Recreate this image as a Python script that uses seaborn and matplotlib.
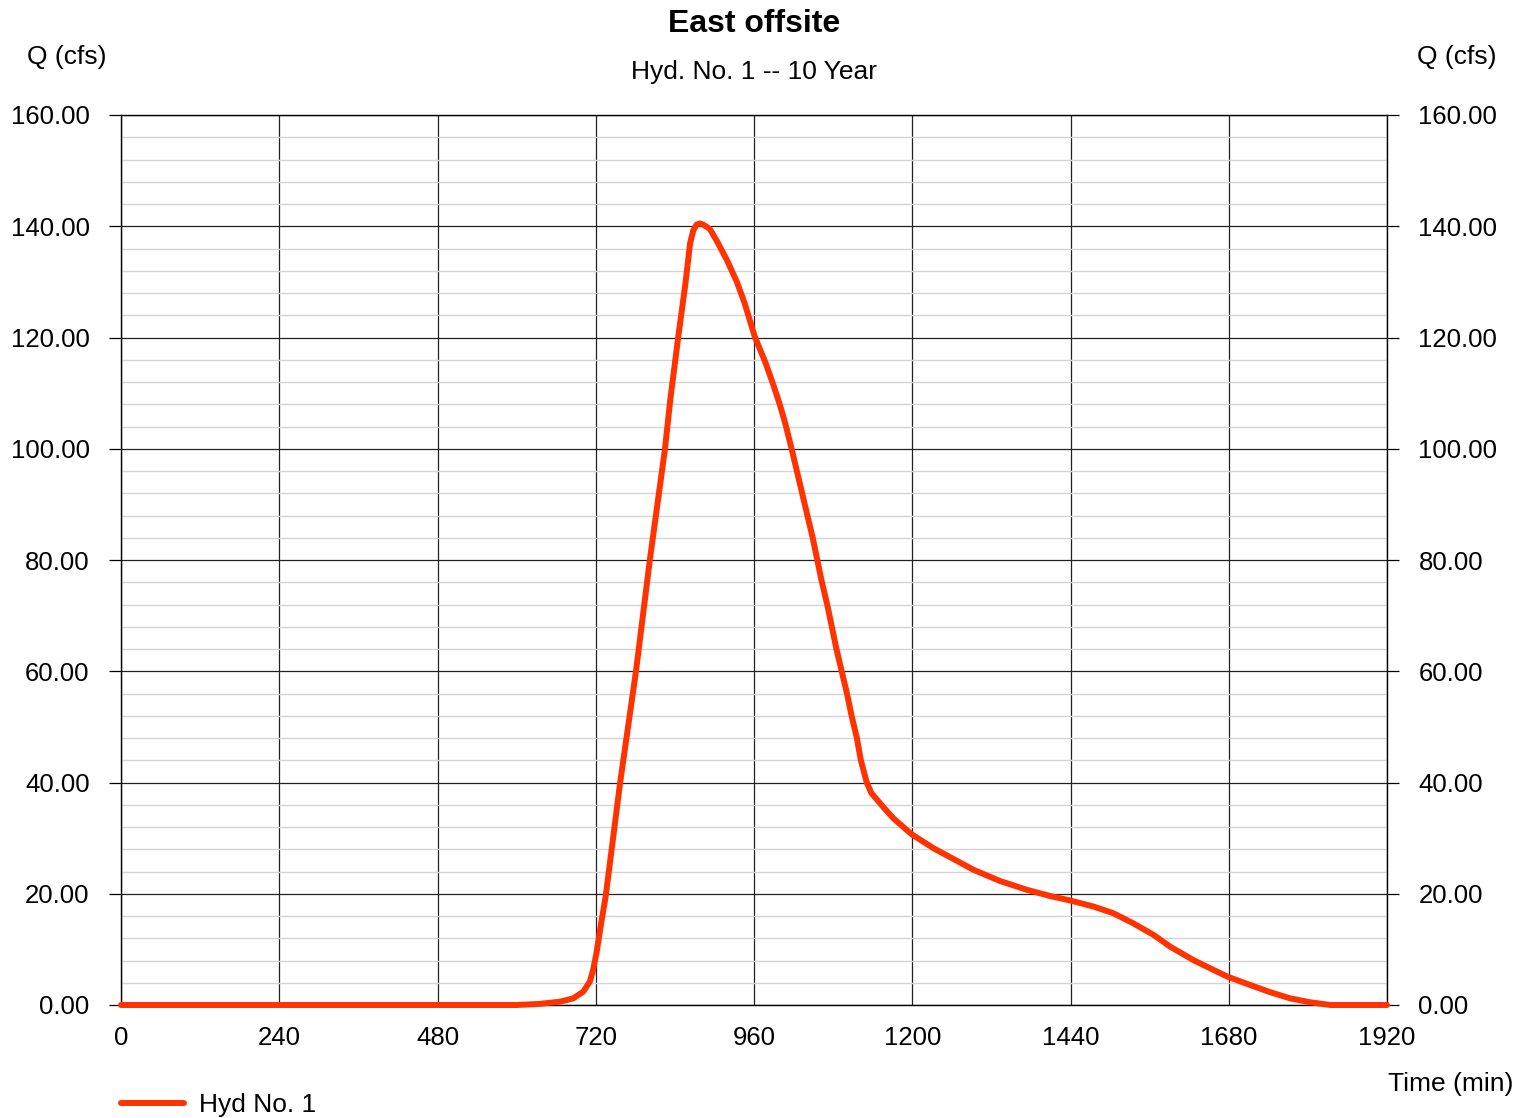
import matplotlib
matplotlib.use("Agg")
import matplotlib.pyplot as plt
import seaborn as sns
import pandas as pd
from matplotlib.ticker import MultipleLocator, FormatStrFormatter

# Data
time_min = [0, 600, 635, 666, 686, 701, 711, 716, 721, 729,
            735, 757, 781, 802, 825, 833, 845, 856, 863, 868,
            873, 878, 883, 893, 903, 919, 934, 946, 961, 977,
            989, 999, 1008, 1017, 1025, 1033, 1041, 1049, 1056, 1063,
            1071, 1078, 1085, 1093, 1101, 1108, 1116, 1122, 1131, 1138,
            1156, 1171, 1199, 1232, 1257, 1293, 1333, 1374, 1409, 1439,
            1475, 1505, 1535, 1566, 1591, 1626, 1657, 1678, 1717, 1743,
            1773, 1803, 1834, 1920]
q_cfs = [0, 0, 0.2, 0.6, 1.2, 2.4, 4.2, 6.3, 9.3, 15.3,
         19.5, 40, 60, 80, 100, 108.8, 120, 129.7, 136.9, 139.3,
         140.3, 140.5, 140.3, 139.5, 137.5, 133.9, 130, 126.1, 120.2, 115.6,
         111.6, 108, 104.3, 100, 96, 92, 88, 84, 80, 76,
         72, 68, 64, 60, 56, 52, 48, 44, 40, 38.1,
         35.6, 33.6, 30.7, 28.2, 26.6, 24.3, 22.3, 20.7, 19.6, 18.8,
         17.7, 16.5, 14.7, 12.6, 10.5, 8.1, 6.3, 5.1, 3.4, 2.3,
         1.2, 0.5, 0, 0]
series_name = "Hyd No. 1"
title = "East offsite"
subtitle = "Hyd. No. 1 -- 10 Year"
x_ticks = list(range(0, 1921, 240))
y_ticks = list(range(0, 161, 20))

df = pd.DataFrame({"time": time_min, "q": q_cfs})

sns.set_style("white")
plt.rcParams["font.family"] = ["Liberation Sans", "DejaVu Sans"]
for k in ["text.color", "axes.labelcolor", "xtick.color", "ytick.color"]:
    plt.rcParams[k] = "black"

W, H = 1532, 1118
fig = plt.figure(figsize=(W / 100, H / 100), dpi=100)
ax = fig.add_axes([121 / W, 1 - 1005 / H, 1266 / W, 890 / H])

sns.lineplot(data=df, x="time", y="q", ax=ax, color="#FF3300", lw=4.3,
             label=series_name, estimator=None, sort=False,
             solid_capstyle="round", solid_joinstyle="round",
             zorder=5, clip_on=False)

ax.set_xlim(0, 1920)
ax.set_ylim(0, 160)
ax.set_xticks(x_ticks)
ax.set_yticks(y_ticks)
ax.yaxis.set_minor_locator(MultipleLocator(4))
ax.yaxis.set_major_formatter(FormatStrFormatter("%.2f"))
ax.set_xlabel("")
ax.set_ylabel("")

ax.set_axisbelow(True)
ax.grid(which="minor", axis="y", color="#d4d4d4", lw=1.0)
ax.grid(which="major", axis="both", color="#222222", lw=0.9)

for s in ax.spines.values():
    s.set_visible(True)
    s.set_color("black")
    s.set_linewidth(1.0)

ax.tick_params(axis="y", which="major", left=True, right=True,
               labelleft=True, labelright=True, direction="out",
               length=8.6, width=0.9, color="black", pad=14, labelsize=18.5,
               labelcolor="black")
ax.tick_params(axis="y", which="minor", left=False, right=False)
ax.tick_params(axis="x", which="major", bottom=False, length=0, pad=15,
               labelsize=18.5, labelcolor="black")

fig.text(754 / W, 1 - 24 / H, title, ha="center", va="center",
         fontsize=23, fontweight="bold", color="black")
fig.text(754 / W, 1 - 72 / H, subtitle, ha="center", va="center",
         fontsize=19, color="black")
fig.text(67 / W, 1 - 57 / H, "Q (cfs)", ha="center", va="center",
         fontsize=19, color="black")
fig.text(1457 / W, 1 - 57 / H, "Q (cfs)", ha="center", va="center",
         fontsize=19, color="black")
fig.text(1451 / W, 1 - 1084 / H, "Time (min)", ha="center", va="center",
         fontsize=19, color="black")

leg = ax.legend(loc="center left", bbox_to_anchor=(121 / W, 1 - 1105 / H),
                bbox_transform=fig.transFigure, frameon=False, fontsize=19,
                handlelength=2.4, handletextpad=0.55, borderpad=0,
                borderaxespad=0)
for t in leg.get_texts():
    t.set_color("black")

fig.savefig("out.png", dpi=100, facecolor="white")
